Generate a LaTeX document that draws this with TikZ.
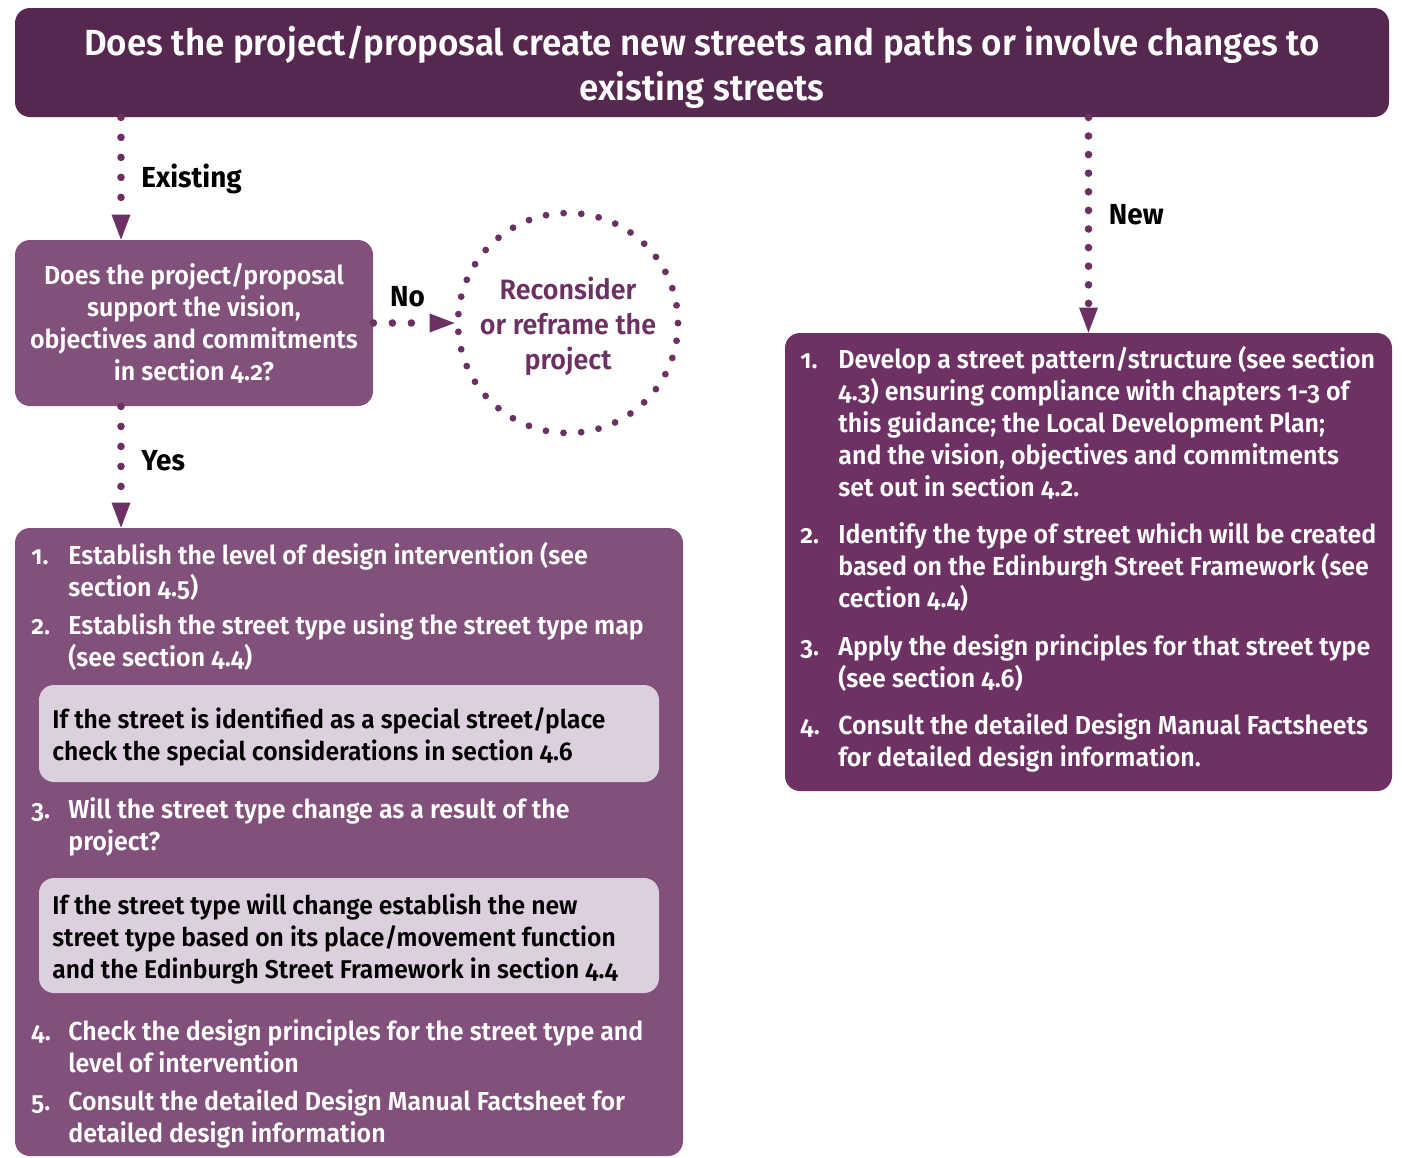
\documentclass[tikz,border=0pt]{standalone}
\usepackage{fontspec}
\setmainfont{Fira Sans}[UprightFont={* SemiBold}, BoldFont={* Bold}, FakeStretch=0.96, Numbers=OldStyle]
\usepackage{tikz}
\usetikzlibrary{arrows.meta}
\usepackage{xcolor}

\definecolor{plumdark}{HTML}{56284F}
\definecolor{plumbox}{HTML}{82517B}
\definecolor{plumnew}{HTML}{6D3263}
\definecolor{plumlight}{HTML}{DDD0DE}
\definecolor{plumdot}{HTML}{6C3163}

\newcommand{\stepbody}[1]{\parbox[t]{340pt}{\raggedright #1}}

\begin{document}
\begin{tikzpicture}[
    x=0.5pt, y=-0.5pt,
    flow/.style={draw=plumdot, line width=3.8pt, line cap=round, dash pattern=on 0pt off 10pt,
        -{Triangle[length=12.5pt, width=9.5pt, line width=0pt]}},
    lbl/.style={font=\bfseries\fontsize{14.5}{16}\selectfont, text=black},
    panel/.style={rounded corners=7.5pt, inner sep=0pt},
    numtxt/.style={anchor=base west, inner sep=0pt, font=\fontsize{13}{16}\selectfont, text=white},
    itemtxt/.style={numtxt},
    notetxt/.style={numtxt, text=black, font=\fontsize{12.85}{16}\selectfont},
]
\useasboundingbox (0,0) rectangle (1402,1157);

\node[panel, fill=plumdark, minimum width=687pt, minimum height=54.5pt] (top) at (702,62.5) {};
\node[text=white, align=center, font=\fontsize{18.2}{22.5}\selectfont] (toptxt) at (702,67)
    {Does the project/proposal create new streets and paths or involve changes to\\existing streets};

\node[panel, fill=plumbox, minimum width=179pt, minimum height=83pt, text=white, align=center,
    font=\fontsize{13}{16}\selectfont] (qbox) at (194,323)
    {Does the project/proposal\\support the vision,\\objectives and commitments\\in section 4.2?};

\node[circle, minimum size=110pt, draw=plumdot, line width=3.4pt, line cap=round,
    dash pattern=on 0pt off 8.86pt] (recon) at (568,323) {};
\node[text=plumdot, align=center, font=\fontsize{14}{17.5}\selectfont] (recontxt) at (568,326)
    {Reconsider\\or reframe the\\project};

\node[panel, fill=plumbox, minimum width=334pt, minimum height=314pt] (lbox) at (349,842) {};
\node[panel, fill=plumlight, minimum width=310pt, minimum height=48.5pt] (note1) at (349,733.5) {};
\node[panel, fill=plumlight, minimum width=310pt, minimum height=57.5pt] (note2) at (349,935.5) {};
\node[panel, fill=plumnew, minimum width=303.5pt, minimum height=229pt] (nbox) at (1088.5,562) {};

\coordinate (ex) at (121,0);
\draw[flow] (top.south -| ex) -- node[lbl, right=5pt] {Existing} (qbox.north -| ex);
\draw[flow, dash pattern=on 0pt off 9.5pt] (qbox.east) -- node[lbl, pos=0.42, above=3pt] {No} (recon.west);
\draw[flow] (qbox.south -| ex) -- node[lbl, pos=0.45, right=5pt] {Yes} (lbox.north -| ex);
\draw[flow, dash pattern=on 0pt off 9.3pt] (top.south -| nbox.north) -- node[lbl, pos=0.45, right=5pt] {New} (nbox.north);

% existing streets
\node[numtxt] (l1n) at (31,564) {1.};
\node[itemtxt] (l1) at (68,564) {\stepbody{Establish the level of design intervention (see\\section 4.5)}};
\node[numtxt] (l2n) at (31,634) {2.};
\node[itemtxt] (l2) at (68,634) {\stepbody{Establish the street type using the street type map\\(see section 4.4)}};
\node[notetxt] (n1) at (52,728) {\stepbody{If the street is identified as a special street/place\\check the special considerations in section 4.6}};
\node[numtxt] (l3n) at (31,818) {3.};
\node[itemtxt] (l3) at (68,818) {\stepbody{Will the street type change as a result of the\\project?}};
\node[notetxt] (n2) at (52,914) {\stepbody{If the street type will change establish the new\\street type based on its place/movement function\\and the Edinburgh Street Framework in section 4.4}};
\node[numtxt] (l4n) at (31,1040) {4.};
\node[itemtxt] (l4) at (68,1040) {\stepbody{Check the design principles for the street type and\\level of intervention}};
\node[numtxt] (l5n) at (31,1110) {5.};
\node[itemtxt] (l5) at (68,1110) {\stepbody{Consult the detailed Design Manual Factsheet for\\detailed design information}};

% new streets
\node[numtxt] (r1n) at (800,368) {1.};
\node[itemtxt] (r1) at (838,368) {\stepbody{Develop a street pattern/structure (see section\\4.3) ensuring compliance with chapters 1-3 of\\this guidance; the Local Development Plan;\\and the vision, objectives and commitments\\set out in section 4.2.}};
\node[numtxt] (r2n) at (800,543) {2.};
\node[itemtxt] (r2) at (838,543) {\stepbody{Identify the type of street which will be created\\based on the Edinburgh Street Framework (see\\cection 4.4)}};
\node[numtxt] (r3n) at (800,655) {3.};
\node[itemtxt] (r3) at (838,655) {\stepbody{Apply the design principles for that street type\\(see section 4.6)}};
\node[numtxt] (r4n) at (800,734) {4.};
\node[itemtxt] (r4) at (838,734) {\stepbody{Consult the detailed Design Manual Factsheets\\for detailed design information.}};
\end{tikzpicture}
\end{document}
